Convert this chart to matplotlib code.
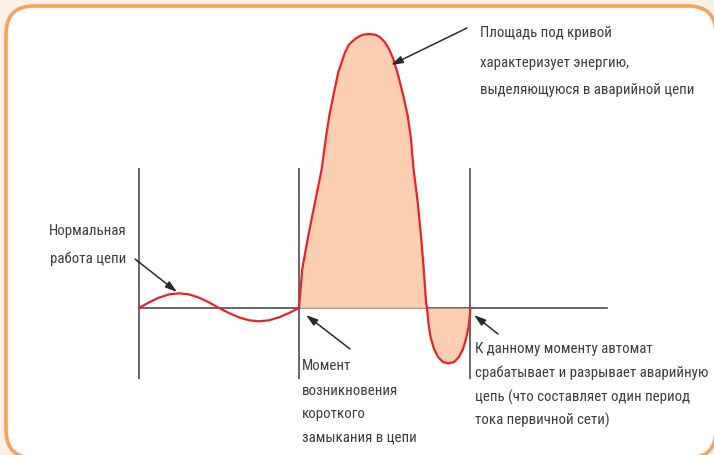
"""Ток короткого замыкания: нормальный режим, КЗ и отключение автоматом."""
import matplotlib

matplotlib.use("Agg")
import matplotlib.pyplot as plt
from matplotlib.patches import FancyBboxPatch

# время, мс (период сети 20 мс) и ток в долях амплитуды нормального тока
t_normal = [0, 1.25, 2.5, 3.75, 5, 6.25, 7.5, 8.75, 10,
            11.25, 12.5, 13.75, 15, 16.25, 17.5, 18.75, 20]
i_normal = [0, 0.40, 0.74, 0.97, 1.05, 0.97, 0.74, 0.40, 0,
            -0.36, -0.67, -0.88, -0.95, -0.88, -0.67, -0.36, 0]

t_fault = [20.0, 20.41, 21.16, 22.0, 22.84, 23.34, 23.79, 24.29, 24.91, 25.75,
           26.25, 27.0, 27.38, 27.88, 28.25, 28.75, 29.25, 29.63, 30.13, 30.75,
           31.25, 31.79, 32.41, 33.04, 33.59, 34.0, 34.29, 34.84, 35.25, 35.59,
           35.88, 36.0, 36.19, 36.44, 36.88, 37.38, 38.0, 38.66, 39.38, 40.0,
           40.5, 40.88, 41.19, 41.38, 41.41]
i_fault = [0.0, 2.79, 5.16, 7.55, 9.93, 12.07, 13.74, 15.16, 16.84, 18.26,
           18.82, 19.21, 19.36, 19.5, 19.54, 19.57, 19.54, 19.5, 19.34, 18.98,
           18.5, 17.79, 16.59, 15.16, 13.74, 12.07, 10.07, 7.55, 5.16, 2.79,
           0.41, 0.0, -1.14, -2.07, -2.93, -3.5, -3.86, -3.96, -3.86, -3.5,
           -2.93, -2.21, -1.36, -0.43, 0.0]

# моменты: начало наблюдения, возникновение КЗ, отключение
t_marks = [0, 20, 41.41]
t_axis_end = 58.5

text_area = ["Площадь под кривой", "характеризует энергию,",
             "выделяющуюся в аварийной цепи"]
text_normal = ["Нормальная", "работа цепи"]
text_fault = ["Момент", "возникновения", "короткого", "замыкания в цепи"]
text_trip = ["К данному моменту автомат", "срабатывает и разрывает аварийную",
             "цепь (что составляет один период", "тока первичной сети)"]

W, H = 714, 456
X0, Y0 = 139, 309          # пиксель начала координат
PX_MS, PX_UNIT = 8.0, 14.0

RED = "#e8232a"
FILL = "#fbcaa8"
INK = "#3d3d3d"
ORANGE = "#f7a35c"

plt.rcParams["font.family"] = ["DejaVu Sans Condensed", "Liberation Sans Narrow",
                               "Roboto Condensed", "Roboto"]
plt.rcParams["font.stretch"] = "condensed"


def px(x, y):
    return (x - X0) / PX_MS, (Y0 - y) / PX_UNIT


fig = plt.figure(figsize=(W / 100, H / 100), dpi=100, facecolor="#fdf1e6")

bg = fig.add_axes([0, 0, 1, 1])
bg.set_xlim(0, W)
bg.set_ylim(H, 0)
bg.axis("off")
bg.add_patch(FancyBboxPatch((6, 7), 710, 452, boxstyle="round,pad=0,rounding_size=28",
                            facecolor="white", edgecolor=ORANGE, linewidth=2.6))

ax = fig.add_axes([0, 0, 1, 1])
ax.patch.set_alpha(0)
ax.set_xlim(-X0 / PX_MS, (W - X0) / PX_MS)
ax.set_ylim(-(H - Y0) / PX_UNIT, Y0 / PX_UNIT)
ax.axis("off")

lo, hi = px(0, 380)[1], px(0, 169)[1]
for tm in t_marks:
    ax.plot([tm, tm], [lo, hi], color=INK, lw=1.1, zorder=1, solid_capstyle="butt")
ax.plot([0, t_axis_end], [0, 0], color=INK, lw=1.1, zorder=1)

ax.fill_between(t_fault, i_fault, 0, color=FILL, alpha=0.9, lw=0, zorder=2)
ax.plot(t_normal, i_normal, color=RED, lw=1.6, zorder=3, solid_joinstyle="round")
ax.plot(t_fault, i_fault, color=RED, lw=1.6, zorder=3, solid_joinstyle="round")

arrow = dict(arrowstyle="-|>,head_length=0.7,head_width=0.22", color="#2a2a2a",
             lw=1.1, shrinkA=0, shrinkB=0)
ax.annotate("", xy=px(391, 66), xytext=px(467, 29), arrowprops=arrow, zorder=4)
ax.annotate("", xy=px(177, 293), xytext=px(135, 260), arrowprops=arrow, zorder=4)
ax.annotate("", xy=px(306, 316), xytext=px(350, 350), arrowprops=arrow, zorder=4)
ax.annotate("", xy=px(474, 316), xytext=px(498, 335), arrowprops=arrow, zorder=4)

# подбираем кегль под ширину самой длинной строки в оригинале (233 px)
renderer = fig.canvas.get_renderer()
probe = fig.text(0, 0, text_trip[1], fontsize=10)
size = 10 * 233 / probe.get_window_extent(renderer).width
probe.remove()


def lines(texts, x, baselines, ha="left"):
    for s, yb in zip(texts, baselines):
        ax.text(*px(x, yb), s, ha=ha, va="baseline", fontsize=size, color=INK)


lines(text_area, 480, [37, 67, 94])
lines(text_normal, 126, [235, 263], ha="right")
lines(text_fault, 302, [370, 395, 418, 442])
lines(text_trip, 475, [353, 377, 402, 425])

fig.savefig("out.png", dpi=100, facecolor=fig.get_facecolor())
